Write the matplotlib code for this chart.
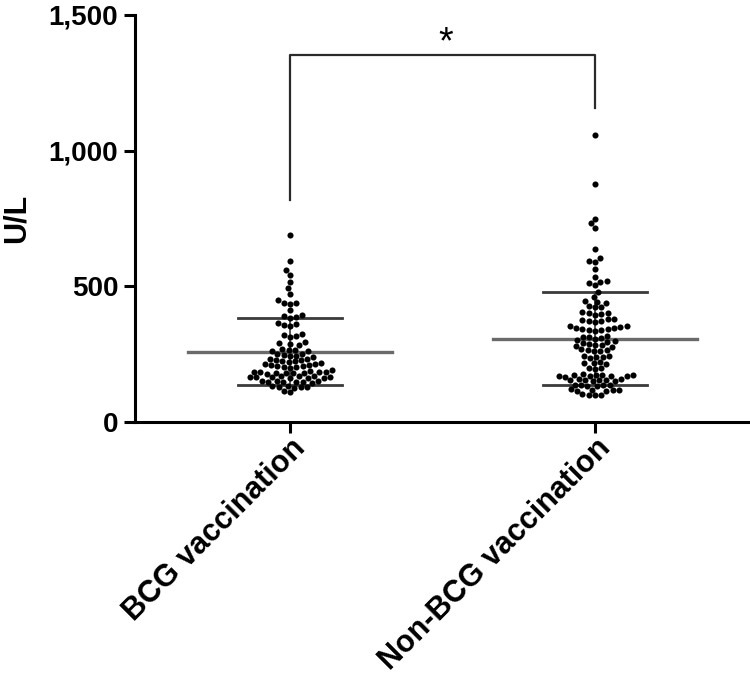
import matplotlib
matplotlib.use("Agg")
import matplotlib.pyplot as plt
import seaborn as sns
import pandas as pd

# values (U/L)
groups = ["BCG vaccination", "Non-BCG vaccination"]

bcg = [689, 595, 560, 542, 517, 493, 472, 450, 440, 413,
       440, 436,
       395, 390, 386, 382,
       365, 360, 357, 352,
       325, 320, 316, 312,
       295, 290, 287, 284,
       270, 267, 265, 262, 260,
       252, 249, 247, 245, 243, 241,
       233, 231, 229, 227, 225, 223, 221, 219,
       215, 213, 211, 209, 207, 205, 203, 201, 199,
       190, 188, 186, 185, 184, 183, 182, 181, 180, 179, 178,
       170, 169, 168, 167, 166, 165, 164, 163, 162, 161,
       152, 151, 150, 149, 148, 147, 146, 145,
       133, 131, 130, 129, 128, 127,
       114, 110]

non_bcg = [1058, 876, 747, 732, 716, 638, 603, 595, 588, 563, 536,
           520, 517, 514, 505, 480, 462, 447, 443, 440, 428, 425, 422,
           405, 402, 400, 398, 396, 380, 378, 376, 374, 372, 370,
           355, 352, 350, 348, 346, 344, 342, 340, 338, 336,
           318, 315, 312, 310, 306, 302, 298, 295, 292, 288, 285, 282, 280, 278,
           268, 266, 264, 262, 260, 245, 243, 241, 239, 237,
           220, 218, 216, 214, 200, 198, 196,
           176, 175, 174, 173, 172, 171, 170, 169, 168, 167,
           158, 157, 156, 155, 154, 153, 152, 151,
           138, 137, 136, 135, 134, 133,
           120, 119, 118, 117, 116, 115,
           102, 101, 100, 99]

means = [259, 307]
sds = [124, 171]

# significance bracket: top, left leg end, right leg end
bracket_top = 1353
bracket_ends = [818, 1157]

plt.rcParams["font.family"] = ["Liberation Sans", "DejaVu Sans"]
plt.rcParams["font.weight"] = "bold"

fig = plt.figure(figsize=(7.5, 6.79), dpi=100)
ax = fig.add_axes([0.18, 0.3785, 0.82, 0.5995])

df = pd.DataFrame({
    "group": [groups[0]] * len(bcg) + [groups[1]] * len(non_bcg),
    "value": bcg + non_bcg,
})
sns.swarmplot(data=df, x="group", y="value", color="black", size=4.4,
              ax=ax, zorder=3)

for i, (m, s) in enumerate(zip(means, sds)):
    ax.plot([i - 0.335, i + 0.335], [m, m], color="#6a6a6a", lw=2.4, zorder=2)
    for y in (m - s, m + s):
        ax.plot([i - 0.17, i + 0.17], [y, y], color="#3a3a3a", lw=2.0, zorder=2)
    ax.plot([i, i], [m - s, m + s], color="#3a3a3a", lw=1.2, zorder=1)

# bracket
ax.plot([0, 0, 1, 1], [bracket_ends[0], bracket_top, bracket_top, bracket_ends[1]],
        color="#2a2a2a", lw=1.6, clip_on=False)
ax.text(0.51, bracket_top - 25, "*", ha="center", va="bottom", fontsize=27,
        fontweight="normal")

ax.set_xlim(-0.508, 1.508)
ax.set_ylim(0, 1500)
ax.set_yticks([0, 500, 1000, 1500])
ax.set_yticklabels(["0", "500", "1,000", "1,500"])
ax.set_xticks([0, 1])
ax.set_xticklabels(groups, rotation=45, ha="right", rotation_mode="anchor")
ax.set_xlabel("")
ax.set_ylabel("U/L", fontsize=22, fontweight="bold", labelpad=12)

for side in ("top", "right"):
    ax.spines[side].set_visible(False)
for side in ("left", "bottom"):
    ax.spines[side].set_linewidth(2.2)
ax.tick_params(axis="both", width=2.2, length=8, pad=4)
ax.tick_params(axis="y", labelsize=20)
ax.tick_params(axis="x", labelsize=22, pad=0)
for lab in ax.get_xticklabels() + ax.get_yticklabels():
    lab.set_fontweight("bold")

fig.savefig("out.png", dpi=100)
